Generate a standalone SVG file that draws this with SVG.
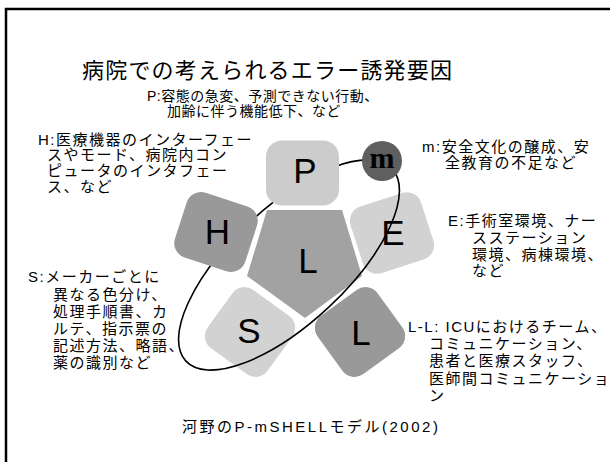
<svg xmlns="http://www.w3.org/2000/svg" width="610" height="462" viewBox="0 0 610 462">
<style>
text { font-family: "Liberation Sans", "Noto Sans CJK JP", sans-serif; fill: #000; }
.title { font-size: 22px; letter-spacing: 1.2px; }
.sub { font-size: 14px; letter-spacing: 0.5px; }
.body { font-size: 15px; letter-spacing: 1.5px; }
.cap { font-size: 15px; letter-spacing: 2.5px; }
.big { font-size: 35px; text-anchor: middle; }
.mm { font-family: "Liberation Serif", "DejaVu Serif", serif; font-weight: bold; font-size: 30px; text-anchor: middle; }
.light { fill: #d2d2d2; }
.mid { fill: #999999; }
.pent { fill: #a2a2a2; }
</style>
<rect x="6" y="9" width="640" height="480" fill="#fff" stroke="#000" stroke-width="2.5"/>

<text class="title" x="82" y="78">病院での考えられるエラー誘発要因</text>
<text class="sub" x="147" y="101">P:容態の急変、予測できない行動、</text>
<text class="sub" x="167" y="116">加齢に伴う機能低下、など</text>

<g id="node-L-center">
<polygon class="pent" points="267,210 342,210 362,276 305,318 247,276"/>
<text class="big" x="308" y="273">L</text>
</g>
<g id="node-E">
<rect class="light" x="-37" y="-35" width="74" height="70" rx="15" transform="translate(392,233) rotate(-18)"/>
<text class="big" x="393" y="245">E</text>
</g>
<g id="node-S">
<rect class="light" x="-37" y="-36" width="74" height="72" rx="15" transform="translate(250,332) rotate(36)"/>
<text class="big" x="249" y="343">S</text>
</g>
<g id="node-L-lower">
<rect class="mid" x="-37" y="-36" width="74" height="72" rx="15" transform="translate(360,332) rotate(-36)"/>
<text class="big" x="361" y="345">L</text>
</g>

<g id="connectors">
<ellipse cx="289" cy="265" rx="141" ry="58" transform="rotate(-43 289 265)" fill="none" stroke="#000" stroke-width="1.6"/>
</g>

<g id="node-P">
<rect fill="#cccccc" x="266" y="140.5" width="73" height="65" rx="16"/>
<text class="big" x="305" y="183">P</text>
</g>
<g id="node-H">
<rect class="mid" x="-37" y="-34" width="74" height="68" rx="15" transform="translate(216,232) rotate(18)"/>
<text class="big" x="217.5" y="244">H</text>
</g>
<g id="node-m">
<circle cx="382" cy="161" r="20" fill="#5f5f5f"/>
<text class="mm" x="382" y="168">m</text>
</g>

<g id="label-H">
<text class="body" x="38" y="144.5">H:医療機器のインターフェー</text>
<text class="body" x="47" y="160.3">スやモード、病院内コン</text>
<text class="body" x="47" y="176">ピュータのインタフェー</text>
<text class="body" x="47" y="192">ス、など</text>
</g>
<g id="label-m">
<text class="body" x="422" y="152">m:安全文化の醸成、安</text>
<text class="body" x="445" y="168">全教育の不足など</text>
</g>
<g id="label-E">
<text class="body" x="448" y="226">E:手術室環境、ナー</text>
<text class="body" x="472" y="242.5">スステーション</text>
<text class="body" x="472" y="259.5">環境、病棟環境、</text>
<text class="body" x="472" y="276">など</text>
</g>
<g id="label-S">
<text class="body" x="28" y="282">S:メーカーごとに</text>
<text class="body" x="53" y="300">異なる色分け、</text>
<text class="body" x="53" y="317">処理手順書、カ</text>
<text class="body" x="53" y="334">ルテ、指示票の</text>
<text class="body" x="53" y="351">記述方法、略語、</text>
<text class="body" x="53" y="368">薬の識別など</text>
</g>
<g id="label-LL">
<text class="body" x="408" y="332">L-L: ICUにおけるチーム、</text>
<text class="body" x="429" y="349">コミュニケーション、</text>
<text class="body" x="429" y="366">患者と医療スタッフ、</text>
<text class="body" x="429" y="383.5">医師間コミュニケーショ</text>
<text class="body" x="429" y="400.5">ン</text>
</g>
<text class="cap" x="182" y="432">河野のP-mSHELLモデル(2002)</text>
</svg>
